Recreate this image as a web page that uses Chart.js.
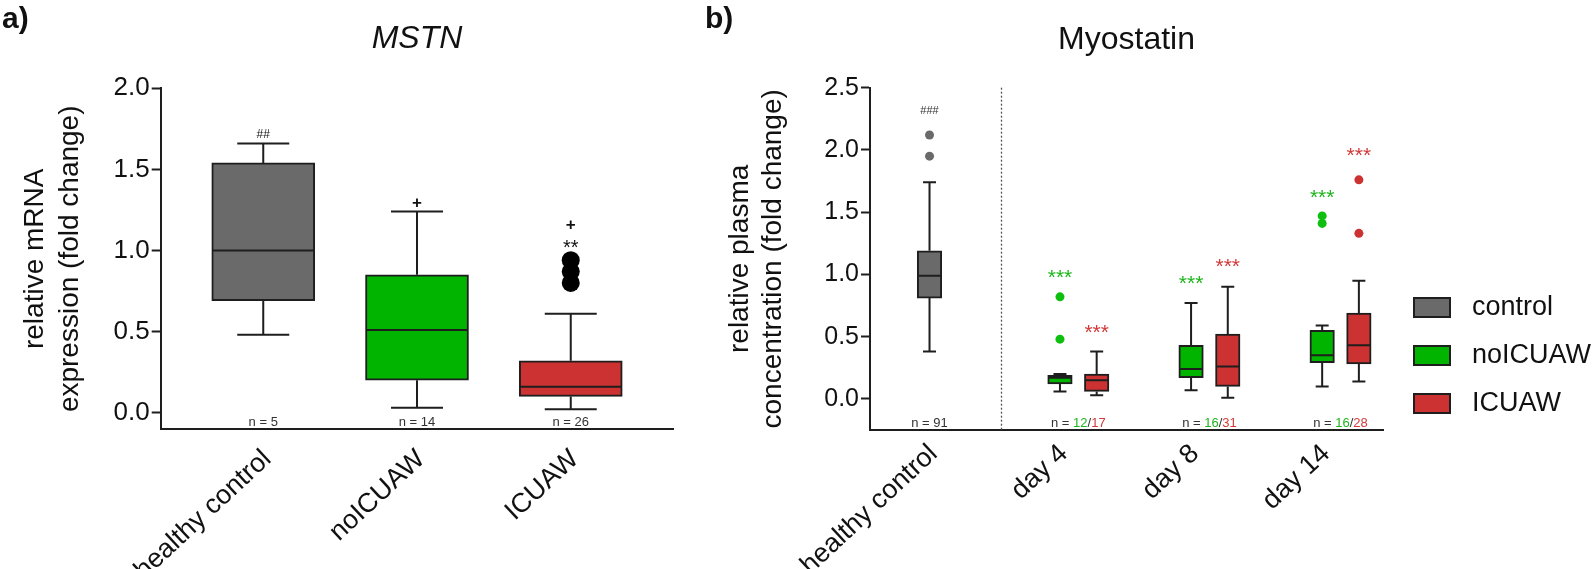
<!DOCTYPE html>
<html>
<head>
<meta charset="utf-8">
<script src="https://cdn.jsdelivr.net/npm/chart.js@4.4.0/dist/chart.umd.min.js"></script>
<style>
  html, body { margin: 0; padding: 0; background: #fff; }
  #wrap { position: relative; width: 1594px; height: 569px; }
  #chartA { position: absolute; left: 0; top: 0; }
  #chartB { position: absolute; left: 700px; top: 0; }
</style>
</head>
<body>
<div id="wrap">
  <canvas id="chartA" width="700" height="569"></canvas>
  <canvas id="chartB" width="894" height="569"></canvas>
</div>
<script>
// ---- a) MSTN mRNA expression ----
const mstnGroups = ['healthy control', 'noICUAW', 'ICUAW'];
const mstnMin = [0.48, 0.03, 0.02];
const mstnQ1 = [0.69, 0.20, 0.10];
const mstnMedian = [1.00, 0.51, 0.16];
const mstnQ3 = [1.54, 0.85, 0.32];
const mstnMax = [1.66, 1.24, 0.61];
const mstnOutliers = [[], [], [0.80, 0.87, 0.94]];
const mstnN = ['5', '14', '26'];
const mstnTicks = [0, 0.5, 1.0, 1.5, 2.0];
// [group, text, value]
const mstnMarks = [[0, '##', 1.72], [1, '+', 1.30], [2, '**', 1.05], [2, '+', 1.16]];

// ---- b) Myostatin plasma concentration ----
const myoLabels = ['healthy control', 'day 4', 'day 8', 'day 14'];
const ctrlStats = [0.38, 0.81, 0.99, 1.19, 1.74]; // min, q1, median, q3, max
const ctrlOutliers = [1.95, 2.12];
const ctrlN = '91';
const noMin = [0.06, 0.07, 0.10];
const noQ1 = [0.12, 0.17, 0.29];
const noMedian = [0.17, 0.24, 0.35];
const noQ3 = [0.19, 0.43, 0.55];
const noMax = [0.20, 0.77, 0.59];
const noOutliers = [[0.48, 0.82], [], [1.41, 1.47]];
const noN = ['12', '16', '16'];
const icuMin = [0.03, 0.01, 0.14];
const icuQ1 = [0.06, 0.10, 0.28];
const icuMedian = [0.15, 0.26, 0.43];
const icuQ3 = [0.20, 0.52, 0.69];
const icuMax = [0.38, 0.90, 0.95];
const icuOutliers = [[], [], [1.33, 1.76]];
const icuN = ['17', '31', '28'];
const noStars = [1.02, 0.97, 1.66];
const icuStars = [0.58, 1.11, 2.00];
const ctrlMark = 2.32;
const myoTicks = [0, 0.5, 1.0, 1.5, 2.0, 2.5];

// ---- layout / style ----
const fontFam = "'Liberation Sans', Arial, Helvetica, sans-serif";
Chart.defaults.font.family = fontFam;
Chart.defaults.color = '#111';
const ink = '#1e1e1e';
const grey = '#6a6a6a', green = '#00b400', red = '#cd3232';
const greenText = '#1fb51f', redText = '#d23a3a';
const posA = [0, 1, 2];
const posB = [0, 1.135, 2.135, 3.135];
const dayShift = 0.14;
const dividerB = 0.545;
const daysPos = posB.slice(1);
// day labels sit under the first box of each pair
const tickPosB = [posB[0]].concat(daysPos.map(p => p - dayShift));

function mark(ctx, text, px, py, size, color, bold) {
  const lift = text[0] === '*' ? 0.58 : 0.35;
  ctx.font = (bold ? 'bold ' : '') + size + 'px ' + fontFam;
  ctx.fillStyle = color;
  ctx.textAlign = 'center';
  ctx.textBaseline = 'alphabetic';
  ctx.fillText(text, px, py + lift * size);
}

// whiskers, caps and median lines for every bar dataset that carries stats
const boxParts = {
  id: 'boxParts',
  afterDatasetsDraw(chart) {
    const {ctx, scales: {x, y}} = chart;
    ctx.save();
    ctx.strokeStyle = ink;
    ctx.lineWidth = 2;
    chart.data.datasets.forEach((ds, di) => {
      if (!ds.whisk) return;
      const meta = chart.getDatasetMeta(di);
      ds.data.forEach((d, i) => {
        const bar = meta.data[i];
        const cx = x.getPixelForValue(d.x);
        const half = bar.width / 2;
        const cap = ds.capWidth / 2;
        const pMin = y.getPixelForValue(ds.whisk.min[i]);
        const pMax = y.getPixelForValue(ds.whisk.max[i]);
        const pQ1 = y.getPixelForValue(d.y[0]);
        const pQ3 = y.getPixelForValue(d.y[1]);
        const pMed = y.getPixelForValue(ds.whisk.med[i]);
        ctx.beginPath();
        ctx.moveTo(cx, pQ3); ctx.lineTo(cx, pMax);
        ctx.moveTo(cx - cap, pMax); ctx.lineTo(cx + cap, pMax);
        ctx.moveTo(cx, pQ1); ctx.lineTo(cx, pMin);
        ctx.moveTo(cx - cap, pMin); ctx.lineTo(cx + cap, pMin);
        ctx.moveTo(cx - half + 1, pMed); ctx.lineTo(cx + half - 1, pMed);
        ctx.stroke();
      });
    });
    ctx.restore();
  }
};

// ---------------- chart a ----------------
const colA = [grey, green, red];
const datasetsA = mstnGroups.map((g, i) => ({
  type: 'bar',
  label: g,
  data: [{x: posA[i], y: [mstnQ1[i], mstnQ3[i]]}],
  whisk: {min: [mstnMin[i]], med: [mstnMedian[i]], max: [mstnMax[i]]},
  backgroundColor: colA[i],
  borderColor: ink,
  borderWidth: 2,
  borderSkipped: false,
  grouped: false,
  barThickness: 103,
  maxBarThickness: 103,
  capWidth: 52
}));
datasetsA.push({
  type: 'scatter',
  label: 'outliers',
  data: mstnOutliers.flatMap((vals, i) => vals.map(v => ({x: posA[i], y: v}))),
  pointRadius: 9,
  pointBackgroundColor: '#000',
  pointBorderWidth: 0
});

const notesA = {
  id: 'notesA',
  afterDraw(chart) {
    const {ctx, chartArea, scales: {x, y}} = chart;
    ctx.save();
    ctx.font = '13px ' + fontFam;
    ctx.fillStyle = '#333';
    ctx.textAlign = 'center';
    ctx.textBaseline = 'alphabetic';
    posA.forEach((p, i) => ctx.fillText('n = ' + mstnN[i], x.getPixelForValue(p), chartArea.bottom - 3.5));
    mstnMarks.forEach(([g, t, v]) => {
      const size = t === '##' ? 12 : (t === '+' ? 17 : 20);
      mark(ctx, t, x.getPixelForValue(posA[g]), y.getPixelForValue(v), size, '#111', t === '+');
    });
    ctx.font = 'italic 32px ' + fontFam;
    ctx.fillStyle = '#111';
    ctx.fillText('MSTN', (chartArea.left + chartArea.right) / 2, 48);
    ctx.font = 'bold 30px ' + fontFam;
    ctx.textAlign = 'left';
    ctx.fillText('a)', 2, 28);
    ctx.restore();
  }
};

new Chart(document.getElementById('chartA'), {
  type: 'bar',
  data: {datasets: datasetsA},
  options: {
    responsive: false,
    animation: false,
    events: [],
    layout: {padding: {left: 0, top: 88.3, right: 26.7, bottom: 0}},
    plugins: {legend: {display: false}, tooltip: {enabled: false}},
    scales: {
      x: {
        type: 'linear',
        min: -0.667,
        max: 2.667,
        offset: false,
        afterBuildTicks: s => { s.ticks = posA.map(v => ({value: v})); },
        afterFit: s => { s.height = 569 - 429.3; },
        grid: {display: false, drawTicks: false},
        border: {display: true, color: ink, width: 2},
        ticks: {
          autoSkip: false, minRotation: 43, maxRotation: 43, padding: 14, labelOffset: 4,
          color: '#111', font: {size: 27},
          callback: v => mstnGroups[posA.indexOf(v)]
        }
      },
      y: {
        min: -0.103,
        max: 2.0,
        afterBuildTicks: s => { s.ticks = mstnTicks.map(v => ({value: v})); },
        afterFit: s => { s.width = 160.7; },
        grid: {drawOnChartArea: false, drawTicks: true, tickLength: 9, tickWidth: 2, tickColor: ink},
        border: {color: ink, width: 2},
        ticks: {padding: 2, color: '#111', font: {size: 26}, callback: v => v.toFixed(1)},
        title: {
          display: true,
          text: ['relative mRNA', 'expression (fold change)'],
          color: '#111',
          font: {size: 28, lineHeight: 1.28},
          padding: {top: 17, bottom: 0}
        }
      }
    }
  },
  plugins: [boxParts, notesA]
});

// ---------------- chart b ----------------
const datasetsB = [
  {
    type: 'bar',
    label: 'control',
    data: [{x: posB[0], y: [ctrlStats[1], ctrlStats[3]]}],
    whisk: {min: [ctrlStats[0]], med: [ctrlStats[2]], max: [ctrlStats[4]]},
    backgroundColor: grey
  },
  {
    type: 'bar',
    label: 'noICUAW',
    data: daysPos.map((p, i) => ({x: p - dayShift, y: [noQ1[i], noQ3[i]]})),
    whisk: {min: noMin, med: noMedian, max: noMax},
    backgroundColor: green
  },
  {
    type: 'bar',
    label: 'ICUAW',
    data: daysPos.map((p, i) => ({x: p + dayShift, y: [icuQ1[i], icuQ3[i]]})),
    whisk: {min: icuMin, med: icuMedian, max: icuMax},
    backgroundColor: red
  }
].map(ds => Object.assign(ds, {
  borderColor: ink, borderWidth: 2, borderSkipped: false, grouped: false,
  barThickness: 24.5, maxBarThickness: 24.5, capWidth: 13
}));
const outlierSets = [
  [ctrlOutliers.map(v => ({x: posB[0], y: v})), grey],
  [noOutliers.flatMap((vals, i) => vals.map(v => ({x: daysPos[i] - dayShift, y: v}))), '#0fbf0f'],
  [icuOutliers.flatMap((vals, i) => vals.map(v => ({x: daysPos[i] + dayShift, y: v}))), red]
];
outlierSets.forEach(([pts, c]) => datasetsB.push({
  type: 'scatter', label: 'outliers', data: pts,
  pointRadius: 4.5, pointBackgroundColor: c, pointBorderWidth: 0
}));

const notesB = {
  id: 'notesB',
  beforeDatasetsDraw(chart) {
    const {ctx, chartArea, scales: {x}} = chart;
    const px = Math.round(x.getPixelForValue(dividerB)) + 0.5;
    ctx.save();
    ctx.strokeStyle = '#555';
    ctx.lineWidth = 1.3;
    ctx.setLineDash([2, 2]);
    ctx.beginPath();
    ctx.moveTo(px, chartArea.top);
    ctx.lineTo(px, chartArea.bottom);
    ctx.stroke();
    ctx.restore();
  },
  afterDraw(chart) {
    const {ctx, chartArea, scales: {x, y}} = chart;
    ctx.save();
    // n labels
    ctx.font = '13px ' + fontFam;
    ctx.textBaseline = 'alphabetic';
    ctx.textAlign = 'center';
    ctx.fillStyle = '#333';
    const nY = chartArea.bottom - 3.5;
    ctx.fillText('n = ' + ctrlN, x.getPixelForValue(posB[0]), nY);
    ctx.textAlign = 'left';
    daysPos.forEach((p, i) => {
      const parts = [['n = ', '#333'], [noN[i], greenText], ['/', '#333'], [icuN[i], redText]];
      const w = parts.reduce((s, [t]) => s + ctx.measureText(t).width, 0);
      let cx = x.getPixelForValue(p) - w / 2;
      parts.forEach(([t, c]) => { ctx.fillStyle = c; ctx.fillText(t, cx, nY); cx += ctx.measureText(t).width; });
    });
    // significance marks
    mark(ctx, '###', x.getPixelForValue(posB[0]), y.getPixelForValue(ctrlMark), 11, '#333', false);
    daysPos.forEach((p, i) => {
      mark(ctx, '***', x.getPixelForValue(p - dayShift), y.getPixelForValue(noStars[i]), 21, greenText, false);
      mark(ctx, '***', x.getPixelForValue(p + dayShift), y.getPixelForValue(icuStars[i]), 21, redText, false);
    });
    // title and panel letter
    ctx.font = '32px ' + fontFam;
    ctx.fillStyle = '#111';
    ctx.textAlign = 'center';
    ctx.fillText('Myostatin', (chartArea.left + chartArea.right) / 2, 49);
    ctx.font = 'bold 30px ' + fontFam;
    ctx.textAlign = 'left';
    ctx.fillText('b)', 5, 28);
    // legend
    const lx = chartArea.right + 30;
    ctx.font = '27px ' + fontFam;
    ctx.textBaseline = 'middle';
    chart.data.datasets.filter(ds => ds.type === 'bar').forEach((ds, i) => {
      const top = 297 + i * 48;
      ctx.fillStyle = ds.backgroundColor;
      ctx.fillRect(lx, top, 38, 21);
      ctx.strokeStyle = ink;
      ctx.lineWidth = 2;
      ctx.strokeRect(lx + 1, top + 1, 36, 19);
      ctx.fillStyle = '#111';
      ctx.fillText(ds.label, lx + 59, top + 11);
    });
    ctx.restore();
  }
};

new Chart(document.getElementById('chartB'), {
  type: 'bar',
  data: {datasets: datasetsB},
  options: {
    responsive: false,
    animation: false,
    events: [],
    layout: {padding: {left: 6, top: 87.7, right: 211, bottom: 0}},
    plugins: {legend: {display: false}, tooltip: {enabled: false}},
    scales: {
      x: {
        type: 'linear',
        min: -0.454,
        max: 3.459,
        offset: false,
        afterBuildTicks: s => { s.ticks = tickPosB.map(v => ({value: v})); },
        afterFit: s => { s.height = 569 - 430; },
        grid: {display: false, drawTicks: false},
        border: {display: true, color: ink, width: 2},
        ticks: {
          autoSkip: false, minRotation: 43, maxRotation: 43, padding: 8, labelOffset: 4,
          color: '#111', font: {size: 27},
          callback: v => myoLabels[tickPosB.indexOf(v)]
        }
      },
      y: {
        min: -0.25,
        max: 2.5,
        afterBuildTicks: s => { s.ticks = myoTicks.map(v => ({value: v})); },
        afterFit: s => { s.width = 164; },
        grid: {drawOnChartArea: false, drawTicks: true, tickLength: 9, tickWidth: 2, tickColor: ink},
        border: {color: ink, width: 2},
        ticks: {padding: 2, color: '#111', font: {size: 25}, callback: v => v.toFixed(1)},
        title: {
          display: true,
          text: ['relative plasma', 'concentration (fold change)'],
          color: '#111',
          font: {size: 28, lineHeight: 1.2},
          padding: {top: 17, bottom: 0}
        }
      }
    }
  },
  plugins: [boxParts, notesB]
});
</script>
</body>
</html>
